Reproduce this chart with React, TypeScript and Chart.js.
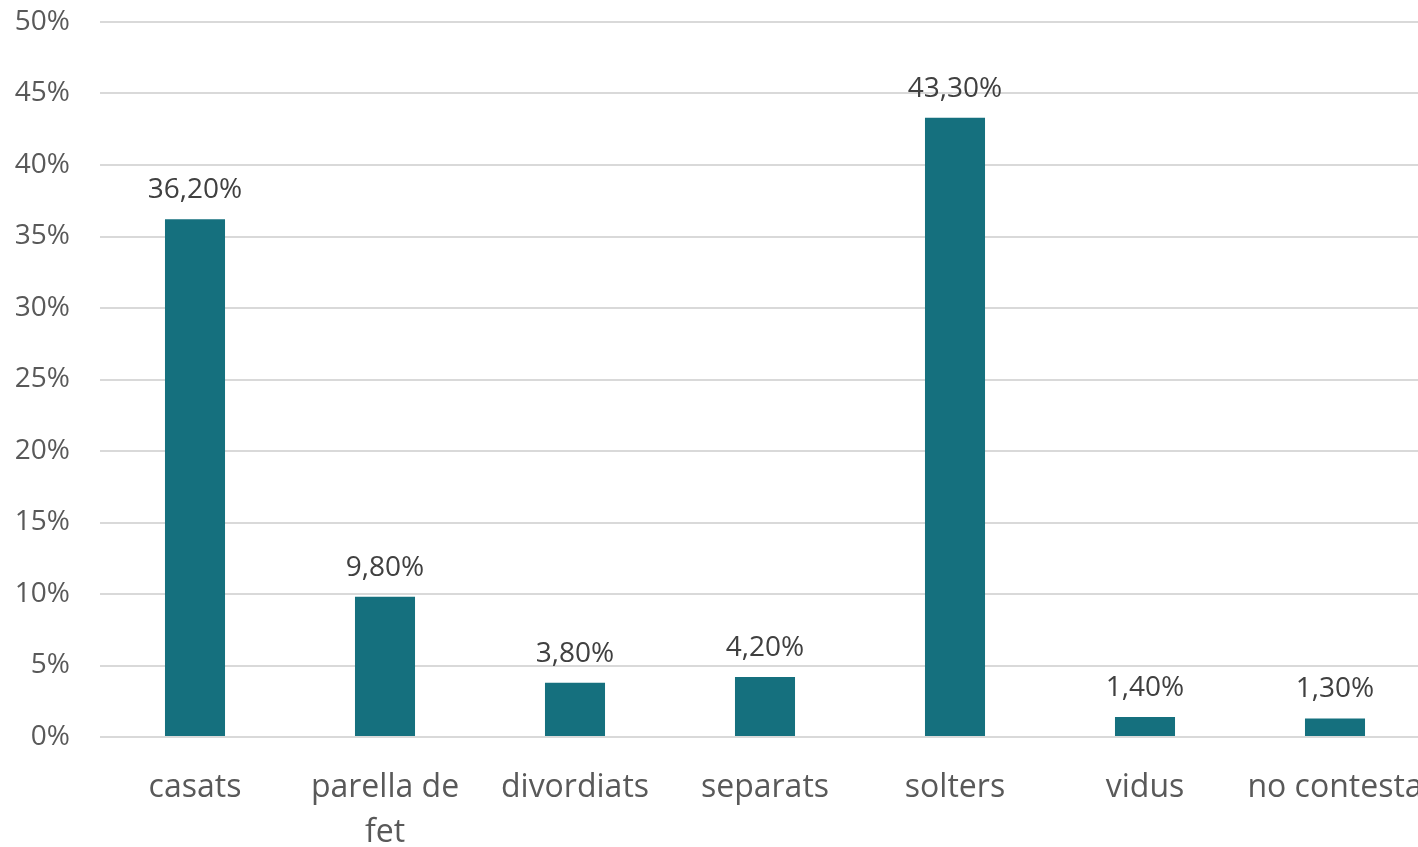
import React, { useEffect, useRef } from "react";
import { Chart, registerables } from "chart.js";

Chart.register(...registerables);

const categories: (string | string[])[] = [
  "casats",
  ["parella de", "fet"],
  "divordiats",
  "separats",
  "solters",
  "vidus",
  "no contesta",
];
const values: number[] = [36.2, 9.8, 3.8, 4.2, 43.3, 1.4, 1.3];
const yTicks: number[] = [0, 5, 10, 15, 20, 25, 30, 35, 40, 45, 50];

const FONT = "'Open Sans', 'DejaVu Sans', sans-serif";

const dataLabelPlugin = {
  id: "dataLabels",
  afterDatasetsDraw(chart: any) {
    const ctx = chart.ctx;
    const meta = chart.getDatasetMeta(0);
    ctx.save();
    ctx.font = `28px ${FONT}`;
    ctx.fillStyle = "#404040";
    ctx.textAlign = "center";
    ctx.textBaseline = "middle";
    meta.data.forEach((bar: any, i: number) => {
      const v = values[i];
      const txt = v.toFixed(2).replace(".", ",") + "%";
      ctx.fillText(txt, bar.x, bar.y - 29);
    });
    ctx.restore();
  },
};

export default function App() {
  const ref = useRef<HTMLCanvasElement>(null);
  useEffect(() => {
    document.body.style.margin = "0";
    document.documentElement.style.overflow = "hidden";
    const chart = new Chart(ref.current!, {
      type: "bar",
      data: {
        labels: categories,
        datasets: [
          {
            data: values,
            backgroundColor: "#15707E",
            barPercentage: 0.316,
            categoryPercentage: 1,
          },
        ],
      },
      options: {
        responsive: false,
        animation: false,
        layout: { padding: { top: 22, right: 17, left: 0, bottom: 0 } },
        plugins: { legend: { display: false }, tooltip: { enabled: false } },
        scales: {
          x: {
            grid: { display: false, drawTicks: false },
            border: { display: false },
            ticks: {
              autoSkip: false,
              maxRotation: 0,
              minRotation: 0,
              padding: 28,
              color: "#595959",
              font: { family: FONT, size: 32, lineHeight: 45 / 32 },
            },
            afterFit: (s: any) => {
              s.height = 110;
              s.paddingLeft = 0;
              s.paddingRight = 0;
            },
          },
          y: {
            min: 0,
            max: 50,
            afterBuildTicks: (s: any) => {
              s.ticks = yTicks.map((v) => ({ value: v }));
            },
            grid: { color: "#D9D9D9", lineWidth: 2, drawTicks: false },
            border: { display: false },
            ticks: {
              padding: 30,
              color: "#595959",
              font: { family: FONT, size: 28 },
              callback: (v: any) => `${v}%`,
            },
            afterFit: (s: any) => {
              s.width = 100;
              s.paddingTop = 16;
              s.paddingBottom = 0;
            },
          },
        },
      },
      plugins: [dataLabelPlugin],
    });
    return () => chart.destroy();
  }, []);
  return (
    <div style={{ width: 1418, height: 847, overflow: "hidden", background: "#fff" }}>
      <canvas ref={ref} width={1447} height={847} style={{ display: "block" }} />
    </div>
  );
}
